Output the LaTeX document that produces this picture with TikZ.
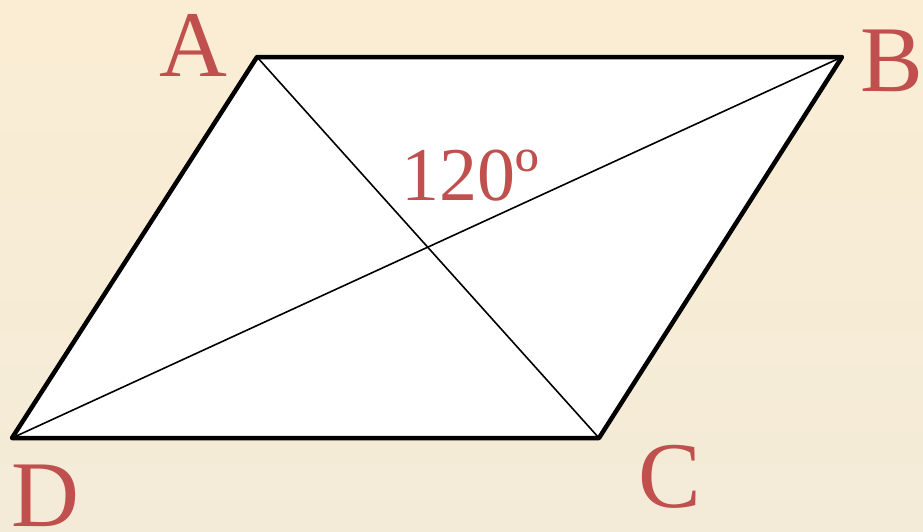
\documentclass[tikz,border=0pt]{standalone}
\usepackage{fontspec}
\setmainfont{Liberation Serif}
\definecolor{lbl}{HTML}{C0504D}
\definecolor{bgtop}{HTML}{FBEDD4}
\definecolor{bgbot}{HTML}{F3EBD8}
\begin{document}
\begin{tikzpicture}[x=1pt,y=-1pt,
  lab/.style={text=lbl,inner sep=0pt,font=\fontsize{94}{94}\selectfont},
  side/.style={line width=4.5pt,line join=round,line cap=round},
  diag/.style={line width=1.6pt}]
\shade[top color=bgtop,bottom color=bgbot] (0,0) rectangle (923,531);
\useasboundingbox (0,0) rectangle (923,531);
\coordinate (A) at (257,57);
\coordinate (B) at (842,57);
\coordinate (C) at (599,438);
\coordinate (D) at (12,438);
\fill[white] (A) -- (B) -- (C) -- (D) -- cycle;
\draw[diag] (A) -- (C);
\draw[diag] (B) -- (D);
\draw[side] (A) -- (B) -- (C) -- (D) -- cycle;
\node[lab] (la) at (193,45) {A};
\node[lab] (lb) at (892,61) {B};
\node[lab] (lc) at (670,477) {C};
\node[lab] (ld) at (45,496) {D};
\node[lab,font=\fontsize{76}{76}\selectfont] (ang) at (470,176) {120º};
\end{tikzpicture}
\end{document}
